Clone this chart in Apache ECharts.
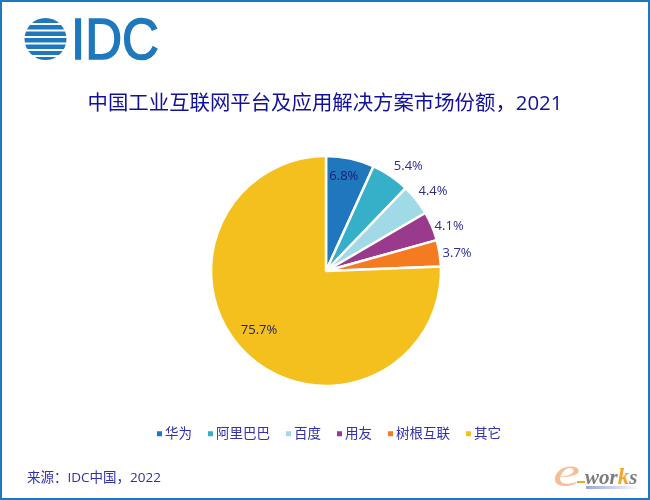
<!DOCTYPE html>
<html>
<head>
<meta charset="utf-8">
<style>
  html, body { margin: 0; padding: 0; background: #fff; }
  #main { width: 650px; height: 500px; }
</style>
<script src="https://cdn.jsdelivr.net/npm/echarts@6/dist/echarts.min.js"></script>
</head>
<body>
<div id="main"></div>
<script>
// 市场份额数据
const categories = ['华为', '阿里巴巴', '百度', '用友', '树根互联', '其它'];
const shares = [6.8, 5.4, 4.4, 4.1, 3.7, 75.7];
const colors = ['#1f77bd', '#36afc8', '#a0dae6', '#9a3a8c', '#f47b20', '#f4c01e'];
// 标签相对默认位置的偏移
const labelOffsets = [[5, -36], [-6, -6], [-8, -6], [-8, 2], [-8, 1], [-25, 16]];
const insideLabels = ['华为', '其它'];

const cjk = '"Open Sans", "Noto Sans CJK SC", sans-serif';
const logoBlue = '#1e78bd';
const serif = '"Liberation Serif", serif';

// logo 地球上的白色条纹
const stripes = [24, 30.5, 37, 43.5, 50, 56].map(function (y) {
  return {
    type: 'rect',
    shape: { x: 22, y: y - 1, width: 48, height: 2 },
    style: { fill: '#fff' }
  };
});

const myChart = echarts.init(document.getElementById('main'));
myChart.setOption({
  backgroundColor: '#fff',
  animation: false,
  title: {
    text: '中国工业互联网平台及应用解决方案市场份额，2021',
    left: 'center',
    top: 89,
    textStyle: { color: '#10109a', fontSize: 20.4, fontWeight: 'normal', fontFamily: cjk }
  },
  legend: {
    data: categories,
    left: 150,
    top: 422,
    icon: 'rect',
    itemWidth: 7,
    itemHeight: 7,
    itemGap: 14,
    selectedMode: false,
    textStyle: { color: '#3030b0', fontSize: 13.5, fontFamily: cjk, padding: [0, 0, 0, -3] }
  },
  series: [{
    type: 'pie',
    center: [326, 271],
    radius: [0, 115],
    startAngle: 90,
    clockwise: true,
    color: colors,
    silent: true,
    itemStyle: { borderColor: '#fff', borderWidth: 2.5 },
    label: {
      formatter: function (p) { return p.value.toFixed(1) + '%'; },
      color: '#2e2e90',
      fontSize: 13,
      fontFamily: cjk
    },
    labelLine: { show: false, length: 4, length2: 2 },
    data: categories.map(function (name, i) {
      const d = { name: name, value: shares[i], label: { offset: labelOffsets[i] } };
      if (insideLabels.indexOf(name) >= 0) {
        d.label.position = 'inside';
        d.label.color = '#1c1c70';
      }
      return d;
    })
  }],
  graphic: [
    {
      type: 'rect',
      shape: { x: 1, y: 1, width: 648, height: 498 },
      style: { fill: 'none', stroke: '#1e78bd', lineWidth: 2 }
    },
    {
      type: 'circle',
      shape: { cx: 45.5, cy: 39, r: 21 },
      style: { fill: logoBlue }
    }
  ].concat(stripes).concat([
    {
      type: 'text',
      x: 71,
      y: 14,
      scaleX: 0.88,
      style: { text: 'IDC', fill: logoBlue, stroke: logoBlue, lineWidth: 1.5, fontSize: 58, fontFamily: '"Liberation Sans", sans-serif' }
    },
    {
      type: 'text',
      x: 27,
      y: 471,
      style: { text: '来源：IDC中国，2022', fill: '#3030b0', fontSize: 13.5, fontFamily: cjk }
    },
    // e-works 水印
    {
      type: 'text',
      x: 553,
      y: 454,
      scaleX: 1.45,
      style: { text: 'e', fill: '#f7bd94', fontSize: 42, fontStyle: 'italic', fontFamily: serif }
    },
    {
      type: 'rect',
      shape: { x: 577, y: 481, width: 8, height: 2 },
      style: { fill: '#f4a52c' }
    },
    {
      type: 'text',
      x: 585,
      y: 467,
      style: {
        text: '{w|wor}{k|k}{w|s}',
        rich: {
          w: { fill: '#7c7c7c', fontSize: 21, fontStyle: 'italic', fontWeight: 'bold', fontFamily: serif },
          k: { fill: '#f4a52c', fontSize: 23, fontStyle: 'italic', fontWeight: 'bold', fontFamily: serif }
        }
      }
    },
    {
      type: 'rect',
      shape: { x: 586, y: 486, width: 55, height: 3 },
      style: {
        fill: new echarts.graphic.LinearGradient(0, 0, 1, 0, [
          { offset: 0, color: '#9aa8d4' },
          { offset: 1, color: '#ffffff' }
        ])
      }
    }
  ])
});
</script>
</body>
</html>
